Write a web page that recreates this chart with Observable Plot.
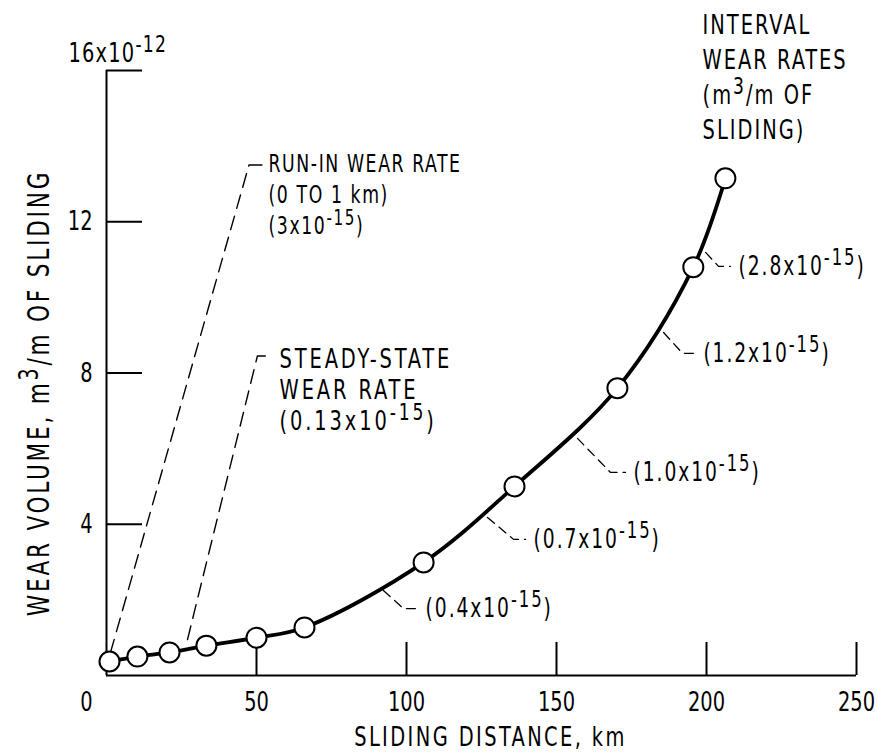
<!DOCTYPE html>
<html><head><meta charset="utf-8">
<script src="https://cdn.jsdelivr.net/npm/d3@7"></script>
<script src="https://cdn.jsdelivr.net/npm/@observablehq/plot@0.6"></script>
<style>
body{margin:0;background:#fff;}
</style></head><body><div id="chart"></div>
<script>
// ---- data ----
const distanceKm = [1, 10.3, 21, 33.3, 50, 66, 105.7, 136, 170.3, 195.6, 206.3];
const wearVolume = [0.37, 0.5, 0.61, 0.79, 1.0, 1.27, 2.99, 5.0, 7.6, 10.8, 13.15];

const xTicks = [50, 100, 150, 200, 250];
const yTicks = [4, 8, 12];
const yFrameTicks = [4, 8, 12, 16];
const xZeroLabel = "0";
const yTopLabel = "16x10^{-12}";
const xTitle = "SLIDING DISTANCE, km";
const yTitle = "WEAR VOLUME, m^{3}/m OF SLIDING";

// interval wear-rate annotations
const intervalRateLabels = ["(0.4x10^{-15})", "(0.7x10^{-15})", "(1.0x10^{-15})", "(1.2x10^{-15})", "(2.8x10^{-15})"];
const leaderStartX = [92.3, 127, 157, 185.7, 199.7];
const leaderStartY = [2.25, 4.18, 6.27, 9.07, 11.19];
const leaderElbowX = [99, 135.7, 168, 192, 204];
const leaderElbowY = [1.77, 3.60, 5.37, 8.52, 10.82];
const leaderEndX = [103.7, 139.7, 173, 196.3, 208];

const intervalTitle = "INTERVAL\nWEAR RATES\n(m^{3}/m OF\nSLIDING)";
const intervalTitleX = 198.7, intervalTitleY = 17.63;

// run-in and steady-state callouts
const calloutLabels = ["RUN-IN WEAR RATE\n(0 TO 1 km)\n(3x10^{-15})", "STEADY-STATE\nWEAR RATE\n(0.13x10^{-15})"];
const calloutLabelX = [54, 57.7];
const calloutLabelY = [13.89, 8.73];
const calloutPathX = [[1.3, 47.5, 52], [27, 50.3, 54.5]];
const calloutPathY = [[0.6, 13.5, 13.5], [0.95, 8.45, 8.45]];

// ---- build tables ----
const points = distanceKm.map((x, i) => ({x, y: wearVolume[i]}));
const leaders = intervalRateLabels.flatMap((t, i) => [
  {id: i, x: leaderStartX[i], y: leaderStartY[i]},
  {id: i, x: leaderElbowX[i], y: leaderElbowY[i]},
  {id: i, x: leaderEndX[i], y: leaderElbowY[i]}
]);
const leaderText = intervalRateLabels.map((t, i) => ({t, x: leaderEndX[i], y: leaderElbowY[i]}));
const callouts = calloutPathX.flatMap((xs, i) => xs.map((x, j) => ({id: i, x, y: calloutPathY[i][j]})));
const runInText = [{t: calloutLabels[0], x: calloutLabelX[0], y: calloutLabelY[0]}];
const steadyText = [{t: calloutLabels[1], x: calloutLabelX[1], y: calloutLabelY[1]}];

const FONT = "'DejaVu Sans Condensed', 'DejaVu Sans', sans-serif";

const chart = Plot.plot({
  width: 877, height: 752,
  marginLeft: 106, marginRight: 21, marginTop: 70, marginBottom: 77,
  x: {domain: [0, 250], label: null},
  y: {domain: [0, 16], label: null},
  style: {fontFamily: FONT, background: "white", color: "black"},
  marks: [
    Plot.ruleY([0], {x1: 0, x2: 250, stroke: "black", strokeWidth: 2}),
    Plot.ruleX([0], {y1: 0, y2: 16, stroke: "black", strokeWidth: 2}),
    Plot.axisX({ticks: xTicks, tickSize: -33, fill: "none", strokeWidth: 2, label: null}),
    Plot.axisX({ticks: xTicks, tickSize: 0, tickPadding: 16, fontSize: 27, label: null}),
    Plot.axisY({ticks: yFrameTicks, tickSize: -36, fill: "none", strokeWidth: 2, label: null}),
    Plot.axisY({ticks: yTicks, tickSize: 0, tickPadding: 14, fontSize: 27, label: null}),
    Plot.text([xZeroLabel], {x: 0, frameAnchor: "bottom", dx: -20, dy: 16, lineAnchor: "top", fontSize: 27, fill: "black"}),
    Plot.text([yTopLabel], {x: 0, y: 16, dx: -38, dy: -9, textAnchor: "start", lineAnchor: "bottom", fontSize: 27, fill: "black"}),
    Plot.text([xTitle], {frameAnchor: "bottom", textAnchor: "middle", dx: 9, dy: 70, lineAnchor: "bottom", fontSize: 27, fill: "black"}),
    Plot.text([yTitle], {frameAnchor: "left", textAnchor: "middle", rotate: -90, dx: -58, dy: 20, lineAnchor: "bottom", fontSize: 30, fill: "black"}),
    // callouts
    Plot.line(callouts, {x: "x", y: "y", z: "id", stroke: "black", strokeWidth: 1.4, strokeDasharray: "14,8", curve: "linear"}),
    Plot.text(runInText, {x: "x", y: "y", text: "t", textAnchor: "start", lineAnchor: "top", lineHeight: 1.28, fontSize: 24, fill: "black"}),
    Plot.text(steadyText, {x: "x", y: "y", text: "t", textAnchor: "start", lineAnchor: "top", lineHeight: 1.16, fontSize: 27, fill: "black"}),
    // leaders
    Plot.line(leaders, {x: "x", y: "y", z: "id", stroke: "black", strokeWidth: 1.3, strokeDasharray: "9,6"}),
    Plot.text(leaderText, {x: "x", y: "y", text: "t", dx: 8, textAnchor: "start", lineAnchor: "middle", fontSize: 26, fill: "black"}),
    Plot.text([intervalTitle], {x: intervalTitleX, y: intervalTitleY, textAnchor: "start", lineAnchor: "top", lineHeight: 1.3, fontSize: 27, fill: "black"}),
    // data
    Plot.line(points, {x: "x", y: "y", curve: "catmull-rom", stroke: "black", strokeWidth: 3.8}),
    Plot.dot(points, {x: "x", y: "y", r: 10, fill: "white", stroke: "black", strokeWidth: 2})
  ]
});
document.getElementById("chart").appendChild(chart);

// narrow, letter-spaced lettering like the original figure
(function condense(svg) {
  const spacing = (s) =>
    /^\d+$/.test(s) ? 0 :
    s.startsWith("16x10") ? 1.5 :
    s.startsWith("SLIDING DISTANCE") ? 3 :
    s.startsWith("WEAR VOLUME") ? 3.5 :
    s.startsWith("RUN-IN") ? 2 :
    s.startsWith("STEADY") ? 3.6 :
    s.startsWith("INTERVAL") ? 2.5 :
    s.startsWith("(") ? 2.4 : 1;
  svg.querySelectorAll("text").forEach((el) => {
    el.style.letterSpacing = spacing(el.textContent) + "px";
    const t = el.getAttribute("transform") || "";
    el.setAttribute("transform", (t + " scale(0.8,1)").trim());
  });
})(chart);

// superscripts: "^{...}" -> raised tspan
(function applySuperscripts(svg) {
  const NS = "http://www.w3.org/2000/svg";
  const walker = document.createTreeWalker(svg, NodeFilter.SHOW_TEXT);
  const nodes = [];
  while (walker.nextNode()) nodes.push(walker.currentNode);
  for (const node of nodes) {
    const s = node.nodeValue;
    const m = /\^\{([^}]*)\}/.exec(s);
    if (!m) continue;
    const parent = node.parentNode;
    const fs = parseFloat(getComputedStyle(parent).fontSize) || 24;
    const raise = Math.round(fs * 0.38);
    const frag = document.createDocumentFragment();
    frag.appendChild(document.createTextNode(s.slice(0, m.index)));
    const sup = document.createElementNS(NS, "tspan");
    sup.setAttribute("dy", -raise);
    sup.setAttribute("font-size", (fs * 0.88).toFixed(1));
    sup.textContent = m[1];
    frag.appendChild(sup);
    const rest = document.createElementNS(NS, "tspan");
    rest.setAttribute("dy", raise);
    rest.textContent = s.slice(m.index + m[0].length) || "\u200B";
    frag.appendChild(rest);
    parent.replaceChild(frag, node);
  }
})(chart);
</script></body></html>
